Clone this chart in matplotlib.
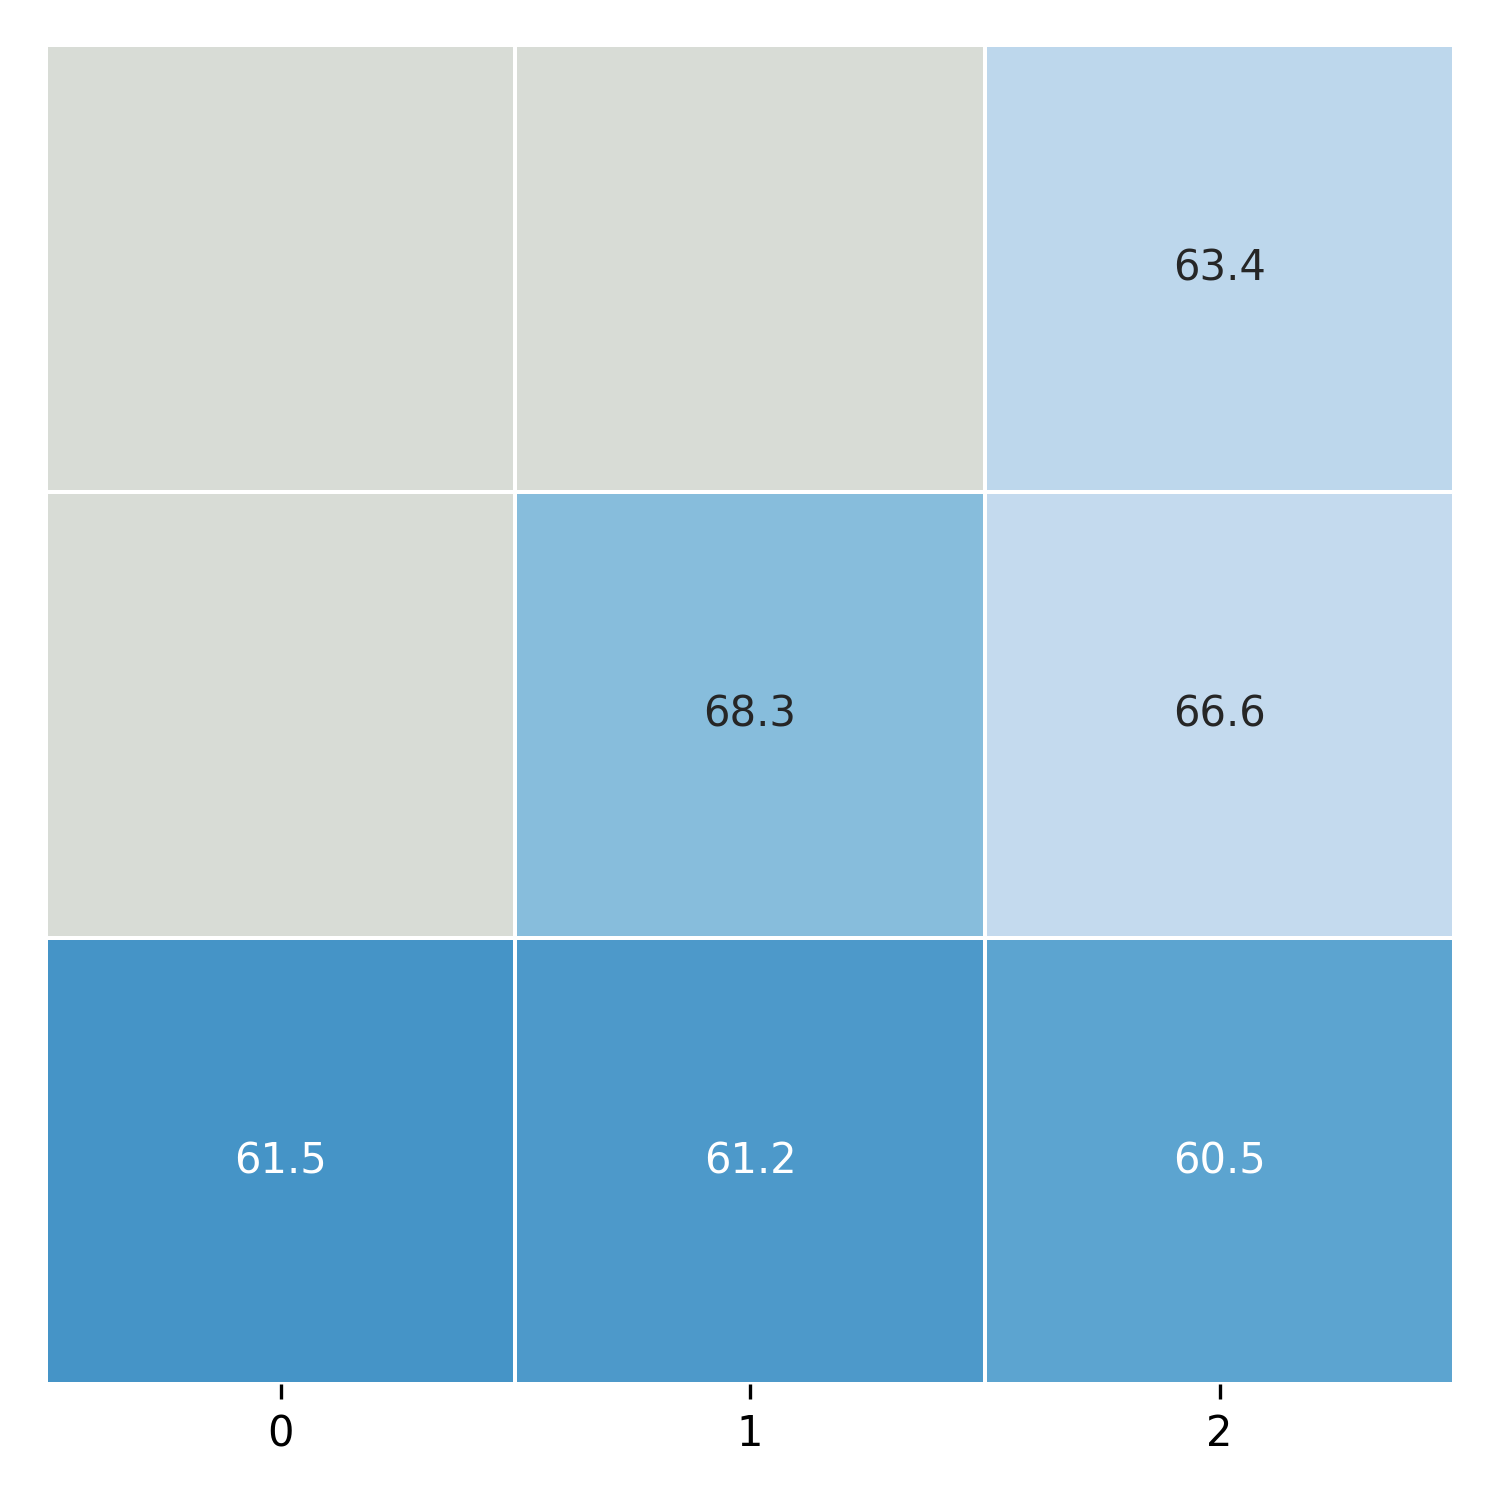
import numpy as np
import matplotlib
matplotlib.use("Agg")
import matplotlib.pyplot as plt
import seaborn as sns

# cell shading (fraction on the Blues scale) and printed values
color_values = np.array([[np.nan, np.nan, 0.28],
                         [np.nan, 0.43, 0.255],
                         [0.615, 0.59, 0.545]])
annot_values = np.array([["", "", "63.4"],
                         ["", "68.3", "66.6"],
                         ["61.5", "61.2", "60.5"]])
x_labels = ["0", "1", "2"]

cmap = plt.get_cmap("Blues").copy()
cmap.set_bad("xkcd:light grey")

fig, ax = plt.subplots(figsize=(5, 5), dpi=300)
sns.heatmap(np.ma.masked_invalid(color_values), cmap=cmap, vmin=0, vmax=1,
            annot=annot_values, fmt="", annot_kws={"fontsize": 10},
            linewidths=0.9, linecolor="white", cbar=False,
            xticklabels=x_labels, yticklabels=False, ax=ax)
ax.tick_params(axis="x", labelsize=10)
ax.tick_params(axis="y", left=False)

plt.subplots_adjust(left=0.0305, right=0.9695, top=0.9697, bottom=0.0772)
plt.savefig("out.png")
